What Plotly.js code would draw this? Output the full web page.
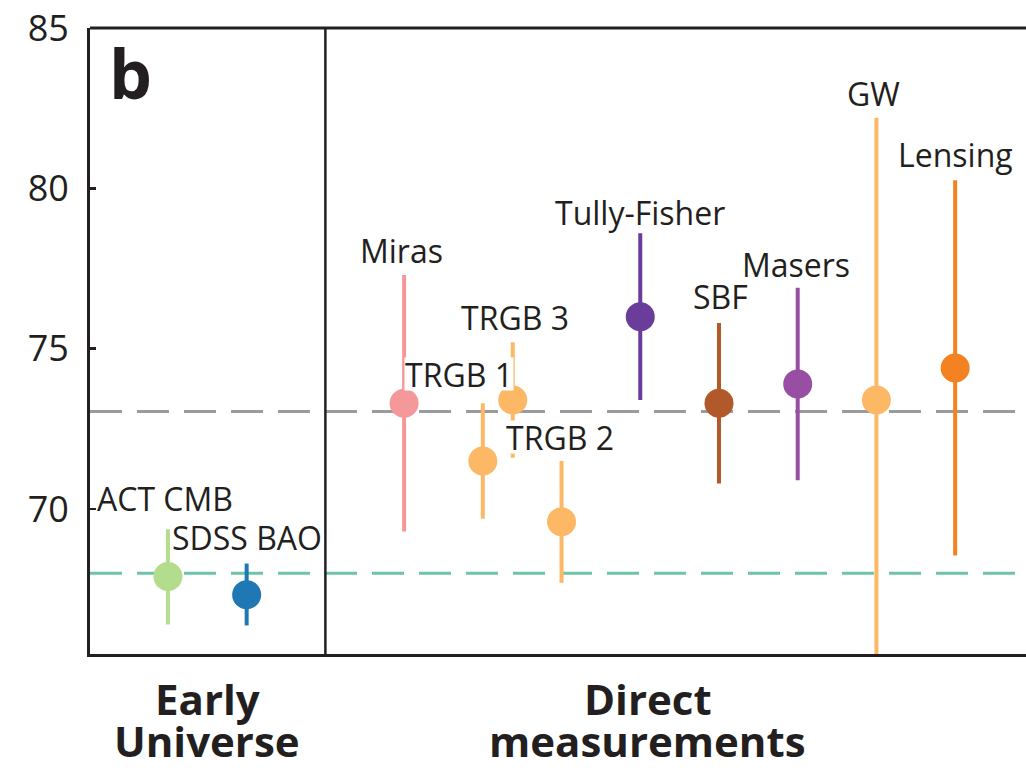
<!DOCTYPE html>
<html>
<head>
<meta charset="utf-8">
<script src="https://cdn.plot.ly/plotly-3.0.1.min.js"></script>
<style>
  html, body { margin: 0; padding: 0; background: #ffffff; }
  #chart { width: 1026px; height: 771px; }
</style>
</head>
<body>
<div id="chart"></div>
<script>
// ---- data ----
const categories = ["ACT CMB", "SDSS BAO", "Miras", "TRGB 1", "TRGB 3", "TRGB 2",
                    "Tully-Fisher", "SBF", "Masers", "GW", "Lensing"];
const slot       = [1, 2, 4, 5, 5.38, 6, 7, 8, 9, 10, 11];          // category slot on the x scale
const h0         = [67.9, 67.33, 73.3, 71.5, 73.4, 69.6, 76.0, 73.3, 73.9, 73.4, 74.4];
const errPlus    = [1.47, 0.97, 4.0, 1.8, 1.8, 1.9, 2.6, 2.5, 3.0, 8.8, 5.85];
const errMinus   = [1.5, 0.96, 4.0, 1.8, 1.8, 1.9, 2.6, 2.5, 3.0, 8.8, 5.85];
const colors     = ["#b3dc8d", "#1f78b4", "#f4989a", "#fdb866", "#fdb866", "#fdb866",
                    "#6a3d9a", "#b15928", "#984ea3", "#fdb866", "#f58220"];
const refValues  = [73.04, 68.0];
const refColors  = ["#9b9b9b", "#6cc5a8"];
const groupNames = [["Early", "Universe"], ["Direct", "measurements"]];
const yTicks     = [70, 75, 80, 85];

// label placement (data coordinates), and whether the label has a white backing
const labelX  = [0.962, 2.004, 3.973, 4.698, 5.409, 5.981, 6.998, 8.014, 8.98, 9.958, 11.0];
const labelY  = [70.34, 69.13, 78.05, 74.2, 75.96, 72.25, 79.26, 76.64, 77.64, 82.97, 81.07];
const labelBg = [true, true, false, true, false, true, false, false, false, false, false];

const ink = "#231f20";
const FONT = "Open Sans, Noto Sans, sans-serif";

const traces = categories.map((name, i) => ({
  type: "scatter",
  mode: "markers",
  name: name,
  x: [slot[i]],
  y: [h0[i]],
  marker: { size: 29, color: colors[i], line: { width: 0 } },
  error_y: {
    type: "data", symmetric: false,
    array: [errPlus[i]], arrayminus: [errMinus[i]],
    color: colors[i], thickness: 4, width: 0
  },
  hoverinfo: "x+y",
  showlegend: false
}));

const shapes = [];
refValues.forEach((v, i) => shapes.push({
  type: "line", xref: "paper", yref: "y", x0: 0, x1: 1, y0: v, y1: v,
  line: { color: refColors[i], width: 3, dash: "32px,15px" }, layer: "below"
}));
// divider between the groups
shapes.push({ type: "line", xref: "x", yref: "paper", x0: 3, x1: 3, y0: 0, y1: 1,
  line: { color: ink, width: 2.5 }, layer: "above" });
// top border
shapes.push({ type: "line", xref: "paper", yref: "paper", x0: 0, x1: 1, y0: 1, y1: 1,
  line: { color: ink, width: 3 }, layer: "above" });

const annotations = categories.map((name, i) => {
  const a = {
    x: labelX[i], y: labelY[i], xref: "x", yref: "y",
    text: name, showarrow: false, xanchor: "center", yanchor: "middle",
    font: { family: FONT, size: 32, color: ink }, borderpad: 0
  };
  if (labelBg[i]) { a.bgcolor = "#ffffff"; a.height = 32; a.valign = "middle"; }
  return a;
});

// panel letter
annotations.push({ x: 0.018, y: 0.9297, xref: "paper", yref: "paper",
  text: "<b>b</b>", showarrow: false, xanchor: "left", yanchor: "middle",
  font: { family: FONT, size: 68, color: ink } });

// group labels under the axis
const groupX = [0.1255, 0.596];
const lineY = [-0.071, -0.138];
groupNames.forEach((lines, g) => lines.forEach((t, k) => annotations.push({
  x: groupX[g], y: lineY[k], xref: "paper", yref: "paper",
  text: "<b>" + t + "</b>", showarrow: false, xanchor: "center", yanchor: "middle",
  font: { family: FONT, size: 42, color: ink }, borderpad: 0
})));

const layout = {
  width: 1026, height: 771,
  margin: { l: 90, r: 0, t: 28, b: 117, pad: 0 },
  paper_bgcolor: "#ffffff", plot_bgcolor: "#ffffff",
  showlegend: false,
  xaxis: {
    range: [0.01, 11.9], showgrid: false, zeroline: false,
    showticklabels: false, ticks: "",
    showline: true, linecolor: ink, linewidth: 3, mirror: false
  },
  yaxis: {
    range: [65.48, 85], showgrid: false, zeroline: false,
    tickvals: yTicks, ticktext: yTicks.map(String),
    ticks: "inside", ticklen: 6, tickwidth: 2.5, tickcolor: ink,
    tickfont: { family: FONT, size: 36, color: ink },
    ticklabelstandoff: 11,
    showline: true, linecolor: ink, linewidth: 3, mirror: false
  },
  shapes: shapes,
  annotations: annotations
};

Plotly.newPlot("chart", traces, layout, { displayModeBar: false, staticPlot: true });
</script>
</body>
</html>
